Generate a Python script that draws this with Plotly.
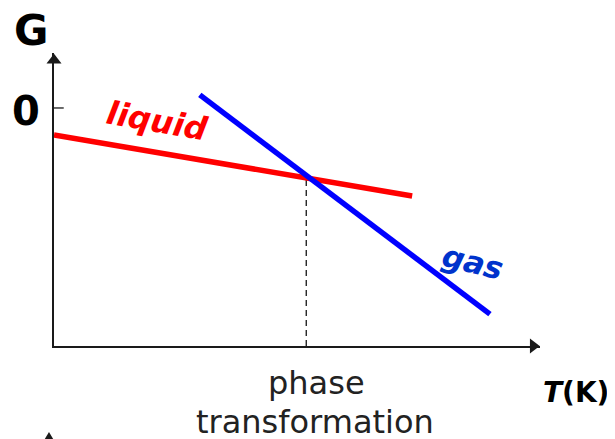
"""Gibbs free energy vs temperature: liquid and gas lines crossing at the phase transformation."""

import plotly.graph_objects as go

# Data (T in arbitrary units, G in arbitrary units, 0 marked on the G axis)
temp_liquid = [0.0, 7.37]
g_liquid = [-1.13, -3.70]

temp_gas = [3.00, 8.97]
g_gas = [0.55, -8.66]

temp_transition = 5.19
g_transition = -2.94

T_RANGE = [0, 10]
G_RANGE = [-10, 2.31]

FONT = "DejaVu Sans"
AXIS_COLOR = "#1a1a1a"

fig = go.Figure()

# Dashed drop line from the crossing point to the T axis
fig.add_trace(
    go.Scatter(
        x=[temp_transition, temp_transition],
        y=[G_RANGE[0], g_transition],
        mode="lines",
        line=dict(color="black", width=1.2, dash="6px,4px"),
        showlegend=False,
        hoverinfo="skip",
    )
)

fig.add_trace(
    go.Scatter(
        x=temp_liquid,
        y=g_liquid,
        mode="lines",
        name="liquid",
        line=dict(color="#ff0000", width=5.5),
        showlegend=False,
    )
)

fig.add_trace(
    go.Scatter(
        x=temp_gas,
        y=g_gas,
        mode="lines",
        name="gas",
        line=dict(color="#0000ff", width=5.5),
        showlegend=False,
    )
)

# Arrow heads on the axes
fig.add_trace(
    go.Scatter(
        x=[0, T_RANGE[1] - 0.14],
        y=[G_RANGE[1] - 0.3, G_RANGE[0]],
        mode="markers",
        marker=dict(
            symbol=["triangle-up", "triangle-right"],
            size=13,
            color=AXIS_COLOR,
        ),
        cliponaxis=False,
        showlegend=False,
        hoverinfo="skip",
    )
)

# Tip of a clipped arrow from the next panel, at the bottom left
fig.add_shape(
    type="path",
    path="M -0.0103,-0.2935 L 0.0,-0.322 L -0.0206,-0.322 Z",
    xref="paper", yref="paper",
    fillcolor=AXIS_COLOR,
    line=dict(width=0),
)

# Tick mark at G = 0
fig.add_shape(
    type="line",
    x0=-0.09, x1=0.2, y0=0, y1=0,
    xref="x", yref="y",
    line=dict(color=AXIS_COLOR, width=1.3),
)

# Labels inside the plot (data coordinates)
inner_labels = [
    dict(text="<b><i>liquid</i></b>", x=2.12, y=-0.55, size=32, color="#ff0000", angle=10),
    dict(text="<b><i>gas</i></b>", x=8.62, y=-6.47, size=31, color="#0033cc", angle=14),
]
for lab in inner_labels:
    fig.add_annotation(
        text=lab["text"], x=lab["x"], y=lab["y"], xref="x", yref="y",
        showarrow=False, xanchor="center", yanchor="middle",
        textangle=lab["angle"],
        font=dict(family=FONT, size=lab["size"], color=lab["color"]),
    )

# Labels around the axes (paper coordinates)
outer_labels = [
    dict(text="<b>G</b>", x=-0.047, y=1.078, size=42, color="black"),
    dict(text="<b>0</b>", x=-0.058, y=0.802, size=40, color="black"),
    dict(text="phase", x=0.541, y=-0.126, size=32, color="#222222"),
    dict(text="transformation", x=0.537, y=-0.259, size=32, color="#222222"),
    dict(text="<b><i>T</i>(K)</b>", x=1.074, y=-0.157, size=28, color="black"),
]
for lab in outer_labels:
    fig.add_annotation(
        text=lab["text"], x=lab["x"], y=lab["y"], xref="paper", yref="paper",
        showarrow=False, xanchor="center", yanchor="middle",
        font=dict(family=FONT, size=lab["size"], color=lab["color"]),
    )

# The page body has an 8px margin, so the figure is shrunk and shifted by that much
fig.update_layout(
    width=607,
    height=431,
    margin=dict(l=46, r=75, t=45, b=93, autoexpand=False),
    plot_bgcolor="white",
    paper_bgcolor="white",
    xaxis=dict(
        range=T_RANGE,
        showgrid=False,
        zeroline=False,
        showticklabels=False,
        ticks="",
        showline=True,
        linecolor=AXIS_COLOR,
        linewidth=1.5,
    ),
    yaxis=dict(
        range=G_RANGE,
        showgrid=False,
        zeroline=False,
        showticklabels=False,
        ticks="",
        showline=True,
        linecolor=AXIS_COLOR,
        linewidth=1.5,
    ),
)

fig.write_html("out.html")
